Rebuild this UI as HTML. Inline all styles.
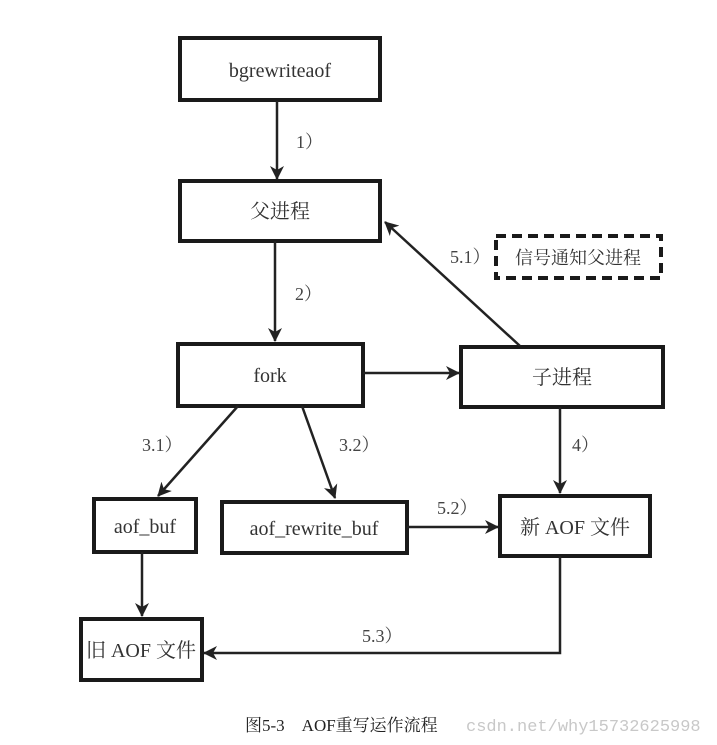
<!DOCTYPE html>
<html><head><meta charset="utf-8"><style>
html,body{margin:0;padding:0;background:#fff;}
svg{display:block;}
.t{font-family:"Liberation Serif","Noto Serif CJK SC",serif;font-size:20px;fill:#333;text-anchor:middle;}
.l{font-family:"Liberation Serif","Noto Serif CJK SC",serif;font-size:18px;fill:#444;}
</style></head><body>
<svg width="717" height="745" viewBox="0 0 717 745" xmlns="http://www.w3.org/2000/svg">
<defs><marker id="a" markerWidth="14" markerHeight="14" refX="13" refY="7" orient="auto" markerUnits="userSpaceOnUse"><path d="M0,0 L14,7 L0,14 L4,7 Z" fill="#222"/></marker></defs>
<g fill="none" stroke="#1a1a1a" stroke-width="4">
<rect x="180" y="38" width="200" height="62"/>
<rect x="180" y="181" width="200" height="60"/>
<rect x="178" y="344" width="185" height="62"/>
<rect x="461" y="347" width="202" height="60"/>
<rect x="94" y="499" width="102" height="53"/>
<rect x="222" y="502" width="185" height="51"/>
<rect x="500" y="496" width="150" height="60"/>
<rect x="81" y="619" width="121" height="61"/>
<rect x="496" y="236" width="165" height="42" stroke-dasharray="10,6"/>
</g>
<g stroke="#222" stroke-width="2.5" fill="none" marker-end="url(#a)">
<line x1="277" y1="101" x2="277" y2="179"/>
<line x1="275" y1="241" x2="275" y2="341"/>
<line x1="520" y1="346" x2="385" y2="222"/>
<line x1="363" y1="373" x2="459" y2="373"/>
<line x1="560" y1="407" x2="560" y2="493"/>
<line x1="407" y1="527" x2="498" y2="527"/>
<polyline points="560,556 560,653 204,653"/>
<line x1="142" y1="552" x2="142" y2="616"/>
<line x1="238" y1="406" x2="158" y2="496"/>
<line x1="302" y1="406" x2="335" y2="498"/>
</g>
<text class="t" x="280" y="77">bgrewriteaof</text>
<text class="t" x="280" y="218">父进程</text>
<text class="t" x="270" y="382">fork</text>
<text class="t" x="562" y="384">子进程</text>
<text class="t" x="145" y="533">aof_buf</text>
<text class="t" x="314" y="535">aof_rewrite_buf</text>
<text class="t" x="575" y="534">新 AOF 文件</text>
<text class="t" x="141" y="657">旧 AOF 文件</text>
<text class="t" x="578" y="264" style="font-size:18px">信号通知父进程</text>
<text class="l" x="296" y="148">1）</text>
<text class="l" x="295" y="300">2）</text>
<text class="l" x="450" y="263">5.1）</text>
<text class="l" x="142" y="451">3.1）</text>
<text class="l" x="339" y="451">3.2）</text>
<text class="l" x="572" y="451">4）</text>
<text class="l" x="437" y="514">5.2）</text>
<text class="l" x="362" y="642">5.3）</text>
<text x="245" y="731" style="font-family:'Liberation Serif','Noto Serif CJK SC',serif;font-size:17px;fill:#222">图5-3　AOF重写运作流程</text>
<text x="466" y="731" style="font-family:'Liberation Mono',monospace;font-size:17px;fill:#c8c8c8">csdn.net/why15732625998</text>
</svg>
</body></html>
